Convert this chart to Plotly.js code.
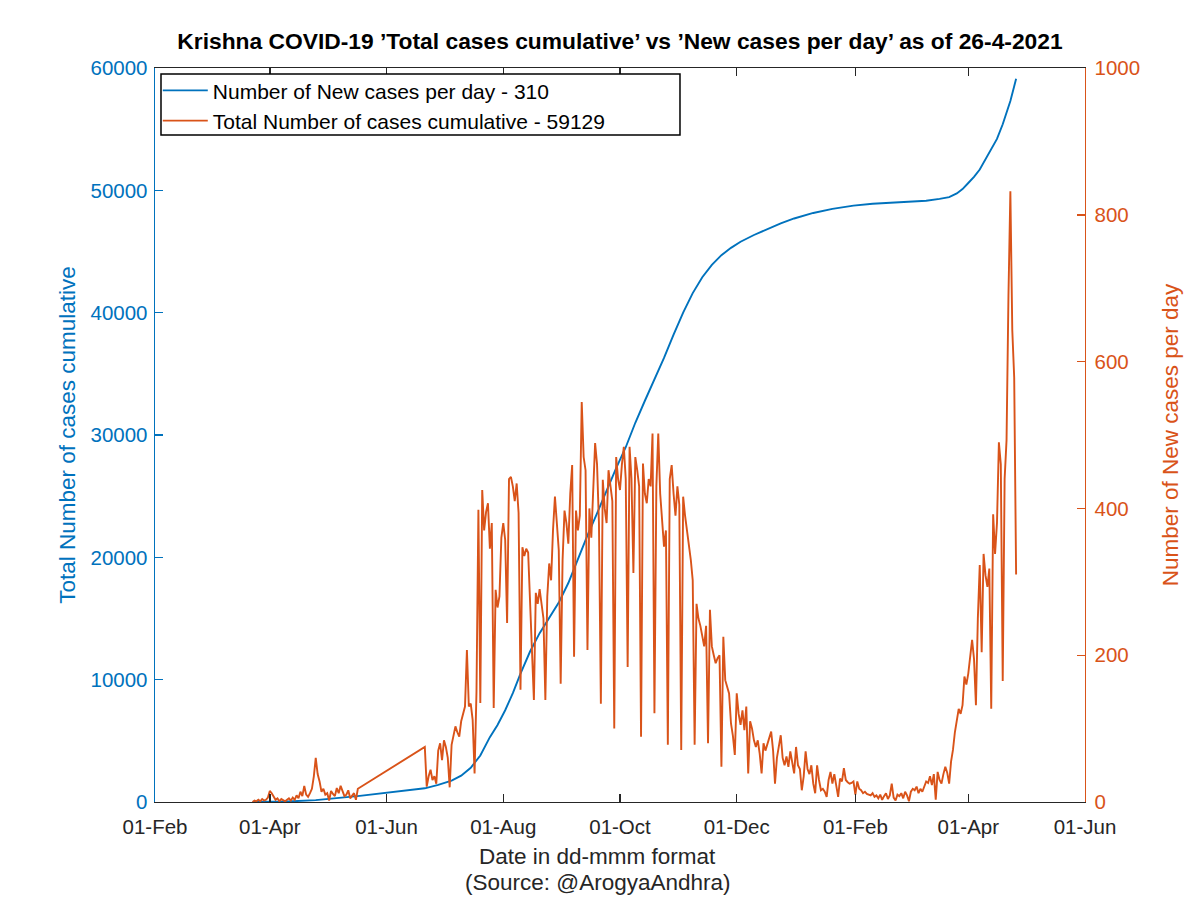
<!DOCTYPE html>
<html>
<head>
<meta charset="utf-8">
<script src="https://cdn.plot.ly/plotly-3.0.1.min.js"></script>
<style>
  html, body { margin: 0; padding: 0; background: #ffffff; }
  #chart { width: 1200px; height: 898px; }
</style>
</head>
<body>
<div id="chart"></div>
<script>
// ---- Data ----
// New cases per day (right axis), first block of daily reports
const newStart1 = '2020-03-23';
const newCases1 = [
  0, 2, 1, 3, 1, 4, 2, 3, 6, 15,
  12, 8, 3, 5, 1, 4, 2, 1, 3, 5,
  2, 6, 3, 9, 5, 14, 8, 22, 10, 7,
  12, 18, 35, 60, 38, 28, 14, 18, 10, 12,
  2, 15, 11, 8, 19, 12, 22, 14, 8, 10,
  16, 5, 9, 12, 3, 18
];
// New cases per day, second block (21-Jun-2020 .. 26-Apr-2021)
const newStart2 = '2020-06-21';
const newCases2 = [
  75, 21, 35, 44, 30, 35, 25, 70, 80, 57,
  84, 75, 60, 20, 78, 92, 103, 95, 89, 110,
  120, 130, 207, 130, 134, 112, 39, 150, 398, 135,
  425, 370, 395, 407, 345, 380, 128, 289, 265, 280,
  360, 380, 357, 244, 440, 443, 430, 410, 434, 394,
  153, 347, 335, 345, 340, 270, 207, 139, 285, 270,
  290, 266, 250, 139, 280, 325, 302, 371, 416, 380,
  343, 161, 330, 397, 380, 352, 420, 459, 198, 397,
  370, 390, 545, 470, 452, 207, 400, 360, 420, 489,
  460, 380, 134, 439, 400, 380, 452, 430, 410, 100,
  470, 440, 425, 460, 484, 440, 184, 484, 440, 312,
  470, 452, 430, 89, 461, 420, 407, 440, 430, 502,
  121, 430, 502, 420, 384, 348, 370, 78, 440, 459,
  420, 390, 430, 405, 71, 416, 390, 370, 345, 330,
  302, 78, 270, 250, 240, 225, 212, 240, 80, 262,
  212, 200, 189, 196, 200, 48, 225, 166, 155, 148,
  107, 90, 64, 148, 120, 105, 125, 98, 130, 39,
  110, 100, 84, 75, 84, 66, 39, 80, 70, 78,
  85, 96, 70, 25, 60, 75, 91, 60, 50, 62,
  48, 69, 55, 39, 75, 50, 45, 16, 35, 69,
  45, 38, 50, 25, 12, 50, 30, 16, 18, 14,
  7, 30, 41, 25, 38, 22, 7, 32, 28, 46,
  30, 27, 25, 26, 28, 10, 28, 18, 16, 12,
  14, 11, 10, 9, 12, 7, 9, 5, 10, 3,
  8, 12, 4, 9, 25, 6, 2, 10, 8, 12,
  5, 14, 9, 1, 14, 18, 16, 21, 12, 18,
  14, 22, 28, 26, 35, 23, 38, 3, 41, 30,
  25, 38, 48, 40, 25, 55, 71, 95, 110, 127,
  120, 132, 171, 160, 175, 199, 221, 195, 132, 250,
  323, 204, 338, 309, 293, 318, 127, 392, 338, 380,
  490, 460, 165, 440, 493, 690, 832, 643, 578, 310
];

// Total cases cumulative (left axis)
const cumDates = [
  '2020-03-23', '2020-04-10', '2020-04-25', '2020-05-05', '2020-05-18',
  '2020-06-21', '2020-06-28', '2020-07-05', '2020-07-10', '2020-07-15',
  '2020-07-20', '2020-07-25', '2020-07-29', '2020-08-02', '2020-08-06',
  '2020-08-10', '2020-08-15', '2020-08-20', '2020-08-25', '2020-08-30',
  '2020-09-04', '2020-09-09', '2020-09-14', '2020-09-19', '2020-09-24',
  '2020-09-29', '2020-10-04', '2020-10-09', '2020-10-14', '2020-10-19',
  '2020-10-24', '2020-10-29', '2020-11-03', '2020-11-08', '2020-11-13',
  '2020-11-18', '2020-11-23', '2020-11-28', '2020-12-03', '2020-12-10',
  '2020-12-17', '2020-12-24', '2020-12-31', '2021-01-10', '2021-01-20',
  '2021-01-31', '2021-02-10', '2021-02-20', '2021-03-01', '2021-03-10',
  '2021-03-17', '2021-03-22', '2021-03-26', '2021-03-29', '2021-04-01',
  '2021-04-04', '2021-04-07', '2021-04-10', '2021-04-13', '2021-04-16',
  '2021-04-19', '2021-04-21', '2021-04-23', '2021-04-25', '2021-04-26'
];
const cumTotals = [
  5, 40, 150, 300, 500,
  1120, 1400, 1750, 2150, 2800,
  3800, 5300, 6300, 7500, 8900,
  10500, 12300, 13800, 15000, 16300,
  17900, 19900, 21800, 23600, 25500,
  27300, 29000, 31000, 32800, 34500,
  36300, 38200, 40000, 41600, 42900,
  43900, 44700, 45300, 45800, 46350,
  46850, 47300, 47700, 48150, 48480,
  48750, 48900, 48980, 49050, 49150,
  49300, 49450, 49750, 50100, 50600,
  51100, 51700, 52500, 53300, 54200,
  55400, 56300, 57300, 58500, 59129
];

const legendBlue = 'Number of New cases per day - 310';
const legendOrange = 'Total Number of cases cumulative - 59129';
const xLabel = 'Date in dd-mmm format';
const xSource = '(Source: @ArogyaAndhra)';
const xTickStart = '2020-02-01';
const xRange = ['2020-02-01', '2021-06-01'];

// ---- helpers ----
function dayList(start, n) {
  const out = [];
  const base = new Date(start + 'T00:00:00Z');
  for (let i = 0; i < n; i++) {
    const d = new Date(base.getTime() + i * 86400000);
    out.push(d.toISOString().slice(0, 10));
  }
  return out;
}

const newDates = dayList(newStart1, newCases1.length).concat(dayList(newStart2, newCases2.length));
const newValues = newCases1.concat(newCases2);

const BLUE = '#0072BD';
const ORANGE = '#D95319';
const FONT = 'Liberation Sans, Arial, Helvetica, sans-serif';
const TICK = 20.5;
const LABEL = 22.5;

const traces = [
  {
    x: cumDates, y: cumTotals, type: 'scatter', mode: 'lines',
    name: legendBlue, line: {color: BLUE, width: 1.9}, yaxis: 'y'
  },
  {
    x: newDates, y: newValues, type: 'scatter', mode: 'lines',
    name: legendOrange, line: {color: ORANGE, width: 1.9}, yaxis: 'y2'
  }
];

const layout = {
  width: 1200, height: 898,
  paper_bgcolor: '#ffffff', plot_bgcolor: '#ffffff',
  margin: {l: 155, r: 115, t: 68, b: 96},
  font: {family: FONT, size: TICK, color: '#262626'},
  title: {
    text: '<b>Krishna COVID-19 ’Total cases cumulative’ vs ’New cases per day’ as of 26-4-2021</b>',
    font: {family: FONT, size: 22.8, color: '#000000'},
    xref: 'paper', x: 0.5, xanchor: 'center',
    yref: 'container', y: 0.954, yanchor: 'middle'
  },
  showlegend: true,
  legend: {
    x: 0.003, y: 0.997, xanchor: 'left', yanchor: 'top',
    borderwidth: 0, bgcolor: 'rgba(0,0,0,0)',
    font: {family: FONT, size: 21, color: '#000000'},
    itemwidth: 45, tracegroupgap: 0
  },
  shapes: [
    {
      type: 'rect', xref: 'paper', yref: 'paper',
      x0: 0.00645, x1: 0.5645, y0: 0.9087, y1: 0.9918,
      line: {color: '#000000', width: 1.5}, fillcolor: '#ffffff', layer: 'above'
    }
  ],
  annotations: [
    {
      text: xLabel, xref: 'paper', yref: 'paper',
      x: 0.4753, y: -0.0749, xanchor: 'center', yanchor: 'middle', showarrow: false,
      font: {family: FONT, size: LABEL, color: '#262626'}
    },
    {
      text: xSource, xref: 'paper', yref: 'paper',
      x: 0.4753, y: -0.109, xanchor: 'center', yanchor: 'middle', showarrow: false,
      font: {family: FONT, size: LABEL, color: '#262626'}
    }
  ],
  xaxis: {
    type: 'date', range: xRange,
    tick0: xTickStart, dtick: 'M2', tickformat: '%d-%b',
    showgrid: false, zeroline: false,
    showline: true, linecolor: '#262626', linewidth: 1.4, mirror: 'ticks',
    ticks: 'inside', ticklen: 8, tickcolor: '#262626', tickwidth: 1.4,
    ticklabelstandoff: 6,
    tickfont: {family: FONT, size: TICK, color: '#262626'}
  },
  yaxis: {
    range: [0, 60000], dtick: 10000, tickformat: 'd',
    showgrid: false, zeroline: false,
    showline: true, linecolor: BLUE, linewidth: 1.4,
    ticks: 'inside', ticklen: 8, tickcolor: BLUE, tickwidth: 1.4,
    ticklabelstandoff: 2,
    tickfont: {family: FONT, size: TICK, color: BLUE},
    title: {text: 'Total Number of cases cumulative', font: {family: FONT, size: LABEL, color: BLUE}, standoff: 8}
  },
  yaxis2: {
    overlaying: 'y', side: 'right',
    range: [0, 1000], dtick: 200,
    showgrid: false, zeroline: false,
    showline: true, linecolor: ORANGE, linewidth: 1.4,
    ticks: 'inside', ticklen: 8, tickcolor: ORANGE, tickwidth: 1.4,
    ticklabelstandoff: 4,
    tickfont: {family: FONT, size: TICK, color: ORANGE},
    title: {text: 'Number of New cases per day', font: {family: FONT, size: LABEL, color: ORANGE}, standoff: 23}
  }
};

Plotly.newPlot('chart', traces, layout, {displayModeBar: false, staticPlot: true});
</script>
</body>
</html>
